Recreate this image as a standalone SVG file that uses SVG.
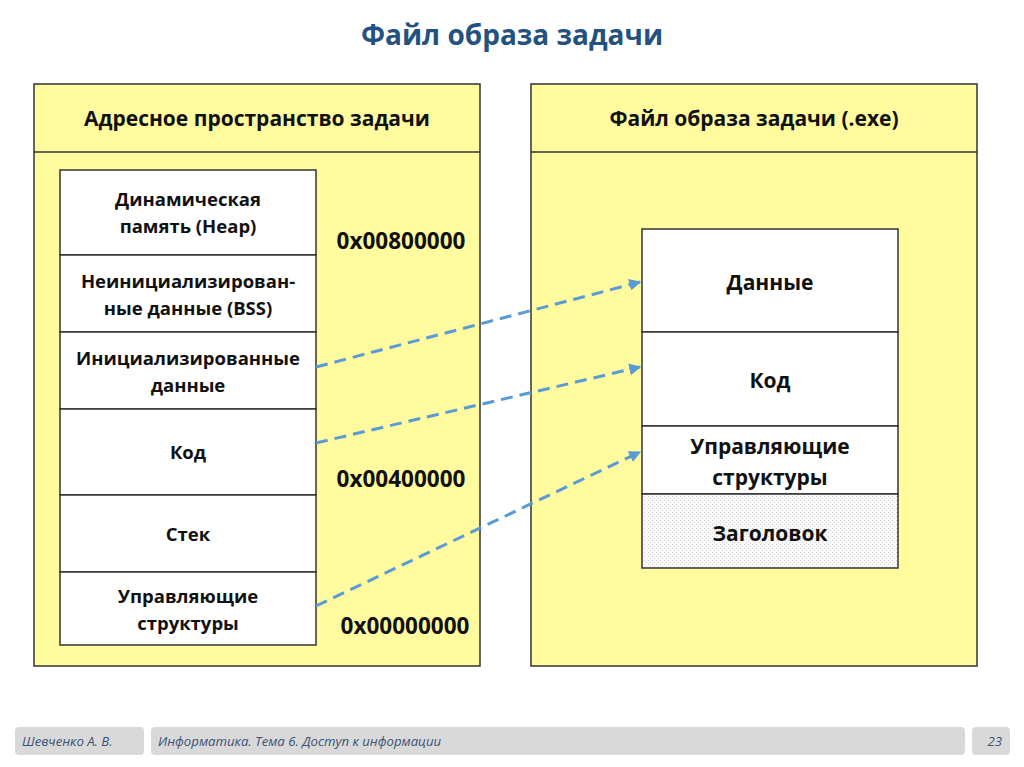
<svg xmlns="http://www.w3.org/2000/svg" width="1024" height="767" viewBox="0 0 1024 767">
<style>
.panel{fill:#FFFB9E;stroke:#333;stroke-width:1.5}
.cell{fill:#fff;stroke:#333;stroke-width:1.5}
.t{font-family:"Open Sans","Liberation Sans",sans-serif;font-weight:bold;fill:#111;text-anchor:middle}
.s{font-size:18.5px}
.h{font-size:21px}
.r{font-size:21px}
.a{font-size:22.5px}
.conn{fill:none;stroke:#5B9BD5;stroke-width:3;stroke-dasharray:12 7}
.fbox{fill:#D9D9D9}
.ft{font-family:"Open Sans","Liberation Sans",sans-serif;font-style:italic;font-size:13.2px;fill:#3B5275}
</style>
<defs>
<marker id="ah" viewBox="0 0 10 10" refX="9" refY="5" markerWidth="4" markerHeight="4" orient="auto" markerUnits="strokeWidth">
<path d="M0,0 L10,5 L0,10 z" fill="#5B9BD5"/>
</marker>
<pattern id="dots" width="4" height="4" patternUnits="userSpaceOnUse">
<rect width="4" height="4" fill="#fafafa"/>
<rect x="0" y="0" width="1" height="1" fill="#d0d0d0"/>
<rect x="2" y="2" width="1" height="1" fill="#d8d8d8"/>
</pattern>
</defs>
<rect width="1024" height="767" fill="#fff"/>
<text x="512" y="45" class="t" style="font-size:28px;fill:#24527F">Файл образа задачи</text>

<g id="left-panel">
<rect class="panel" x="34" y="84" width="446" height="582"/>
<line x1="34" y1="152" x2="480" y2="152" stroke="#333" stroke-width="1.5"/>
<text x="257" y="126" class="t h">Адресное пространство задачи</text>
</g>
<g id="right-panel">
<rect class="panel" x="531" y="84" width="446" height="582"/>
<line x1="531" y1="152" x2="977" y2="152" stroke="#333" stroke-width="1.5"/>
<text x="754" y="126" class="t h">Файл образа задачи (.exe)</text>
</g>

<g id="heap"><rect class="cell" x="60" y="170" width="256" height="85"/>
<text x="188" y="206" class="t s">Динамическая</text><text x="188" y="233" class="t s">память (Heap)</text></g>
<g id="bss"><rect class="cell" x="60" y="255" width="256" height="77"/>
<text x="188" y="288" class="t s">Неинициализирован-</text><text x="188" y="315" class="t s">ные данные (BSS)</text></g>
<g id="init-data"><rect class="cell" x="60" y="332" width="256" height="77"/>
<text x="188" y="365" class="t s">Инициализированные</text><text x="188" y="392" class="t s">данные</text></g>
<g id="code-l"><rect class="cell" x="60" y="409" width="256" height="86"/>
<text x="188" y="459" class="t s">Код</text></g>
<g id="stack"><rect class="cell" x="60" y="495" width="256" height="77"/>
<text x="188" y="541" class="t s">Стек</text></g>
<g id="ctrl-l"><rect class="cell" x="60" y="572" width="256" height="73"/>
<text x="188" y="603" class="t s">Управляющие</text><text x="188" y="630" class="t s">структуры</text></g>

<g id="addr-800"><text x="401" y="249" class="t a">0x00800000</text></g>
<g id="addr-400"><text x="401" y="487" class="t a">0x00400000</text></g>
<g id="addr-000"><text x="405" y="634" class="t a">0x00000000</text></g>

<g id="data-r"><rect class="cell" x="642" y="229" width="256" height="103"/>
<text x="770" y="290" class="t r">Данные</text></g>
<g id="code-r"><rect class="cell" x="642" y="332" width="256" height="94"/>
<text x="770" y="388" class="t r">Код</text></g>
<g id="ctrl-r"><rect class="cell" x="642" y="426" width="256" height="68"/>
<text x="770" y="454" class="t r">Управляющие</text><text x="770" y="485" class="t r">структуры</text></g>
<g id="header-r"><rect x="642" y="494" width="256" height="74" fill="url(#dots)" stroke="#333" stroke-width="1.5"/>
<text x="770" y="541" class="t r">Заголовок</text></g>

<g id="connectors">
<path class="conn" d="M316,367 L640,282" marker-end="url(#ah)"/>
<path class="conn" d="M316,443 L640,367" marker-end="url(#ah)"/>
<path class="conn" d="M316,606 L640,452" marker-end="url(#ah)"/>
</g>

<g id="footer">
<rect class="fbox" x="15" y="727" width="129" height="28" rx="4"/>
<rect class="fbox" x="151" y="727" width="814" height="28" rx="4"/>
<rect class="fbox" x="972" y="727" width="38" height="28" rx="4"/>
<text x="22" y="746" class="ft">Шевченко А. В.</text>
<text x="158" y="746" class="ft">Информатика. Тема 6. Доступ к информации</text>
<text x="1002" y="746" class="ft" text-anchor="end">23</text>
</g>
</svg>
